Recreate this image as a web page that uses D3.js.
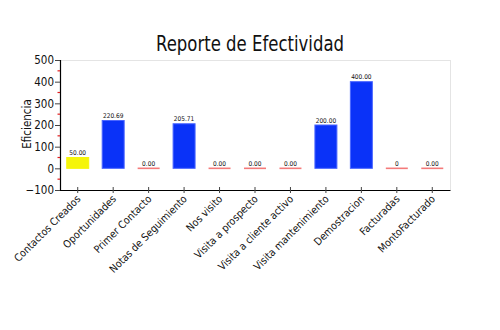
<!DOCTYPE html>
<html>
<head>
<meta charset="utf-8">
<script src="https://cdn.jsdelivr.net/npm/d3@7/dist/d3.min.js"></script>
<style>
  html, body { margin: 0; padding: 0; background: #fff; }
  svg text { font-family: "DejaVu Sans Condensed", "DejaVu Sans", sans-serif; font-stretch: condensed; }
</style>
</head>
<body>
<svg id="chart" width="500" height="330"></svg>
<script>
// Effectiveness report data
const categories = ["Contactos Creados", "Oportunidades", "Primer Contacto", "Notas de Seguimiento",
  "Nos visito", "Visita a prospecto", "Visita a cliente activo", "Visita mantenimiento",
  "Demostracion", "Facturadas", "MontoFacturado"];
const values = [50.00, 220.69, 0, 205.71, 0, 0, 0, 200.00, 400.00, 0, 0];
const valueLabels = ["50.00", "220.69", "0.00", "205.71", "0.00", "0.00", "0.00", "200.00", "400.00", "0", "0.00"];
const yTicks = [-100, 0, 100, 200, 300, 400, 500];
const yMinorTicks = [-50, 50, 150, 250, 350, 450];

const svg = d3.select("#chart");
const margin = { left: 60, right: 50, top: 60, bottom: 140 };
const W = 500, H = 330;
const plotW = W - margin.left - margin.right;   // 390
const plotH = H - margin.top - margin.bottom;   // 130

const x = d3.scaleBand().domain(categories).range([0, plotW]).paddingInner(0.38).paddingOuter(0.19);
const y = d3.scaleLinear().domain([-100, 500]).range([plotH, 0]);

const g = svg.append("g").attr("transform", `translate(${margin.left},${margin.top})`);

// Title
svg.append("text")
  .attr("x", 250).attr("y", 51)
  .attr("text-anchor", "middle")
  .attr("font-size", 21)
  .attr("textLength", 188)
  .attr("lengthAdjust", "spacingAndGlyphs")
  .attr("fill", "#111")
  .text("Reporte de Efectividad");

// light frame on top and right
g.append("line").attr("x1", 0).attr("x2", plotW).attr("y1", 0.5).attr("y2", 0.5)
  .attr("stroke", "#e4e4e4");
g.append("line").attr("x1", plotW + 0.5).attr("x2", plotW + 0.5).attr("y1", 0).attr("y2", plotH)
  .attr("stroke", "#e4e4e4");

// Bars (non-zero values)
const barColor = i => i === 0 ? "#f5f50a" : "#0a32f8";
const barStroke = i => i === 0 ? "#f5f50a" : "#4a66ff";
g.selectAll("rect.bar").data(values.map((v, i) => ({ v, i })).filter(d => d.v !== 0))
  .enter().append("rect")
  .attr("class", "bar")
  .attr("x", d => x(categories[d.i]))
  .attr("width", x.bandwidth())
  .attr("y", d => y(Math.max(d.v, 0)))
  .attr("height", d => Math.abs(y(d.v) - y(0)))
  .attr("fill", d => barColor(d.i))
  .attr("stroke", d => barStroke(d.i))
  .attr("stroke-width", 1);

// zero-valued bars shown as a thin red line
g.selectAll("line.zero").data(values.map((v, i) => ({ v, i })).filter(d => d.v === 0))
  .enter().append("line")
  .attr("class", "zero")
  .attr("x1", d => x(categories[d.i]))
  .attr("x2", d => x(categories[d.i]) + x.bandwidth())
  .attr("y1", d => y(d.v)).attr("y2", d => y(d.v))
  .attr("stroke", "#f47a7a").attr("stroke-width", 1.6);

// Value labels
g.selectAll("text.val").data(values).enter().append("text")
  .attr("class", "val")
  .attr("x", (d, i) => x(categories[i]) + x.bandwidth() / 2)
  .attr("y", d => y(Math.max(d, 0)) - 2.5)
  .attr("text-anchor", "middle")
  .attr("font-size", 6.5)
  .attr("fill", "#111")
  .text((d, i) => valueLabels[i]);

// Y axis
const yAxis = d3.axisLeft(y).tickValues(yTicks).tickSize(5).tickPadding(1).tickFormat(d3.format("d"));
const ya = g.append("g").call(yAxis);
ya.select(".domain").attr("stroke", "#000").attr("stroke-width", 1.2);
ya.selectAll(".tick text").attr("font-size", 11.5).attr("fill", "#111");
ya.selectAll(".tick line").attr("stroke", "#444");
// red minor ticks
g.selectAll("line.minor").data(yMinorTicks).enter().append("line")
  .attr("x1", -2.5).attr("x2", 0)
  .attr("y1", d => y(d)).attr("y2", d => y(d))
  .attr("stroke", "#e02020").attr("stroke-width", 1.2);

// X axis
const xAxis = d3.axisBottom(x).tickSizeInner(4).tickSizeOuter(0).tickPadding(2);
const xa = g.append("g").attr("transform", `translate(0,${plotH})`).call(xAxis);
xa.select(".domain").attr("stroke", "#000").attr("stroke-width", 1.2);
xa.selectAll(".tick line").attr("y1", -3).attr("y2", 3).attr("stroke", "#444");
xa.selectAll(".tick text")
  .attr("font-size", 10.5).attr("fill", "#111")
  .attr("text-anchor", "end")
  .attr("dy", "0.35em")
  .attr("transform", "translate(1,7) rotate(-45)")
  .attr("x", 0).attr("y", 0);

// Y axis title
svg.append("text")
  .attr("transform", "translate(31,124) rotate(-90)")
  .attr("text-anchor", "middle")
  .attr("font-size", 11.5)
  .attr("fill", "#111")
  .text("Eficiencia");
</script>
</body>
</html>
